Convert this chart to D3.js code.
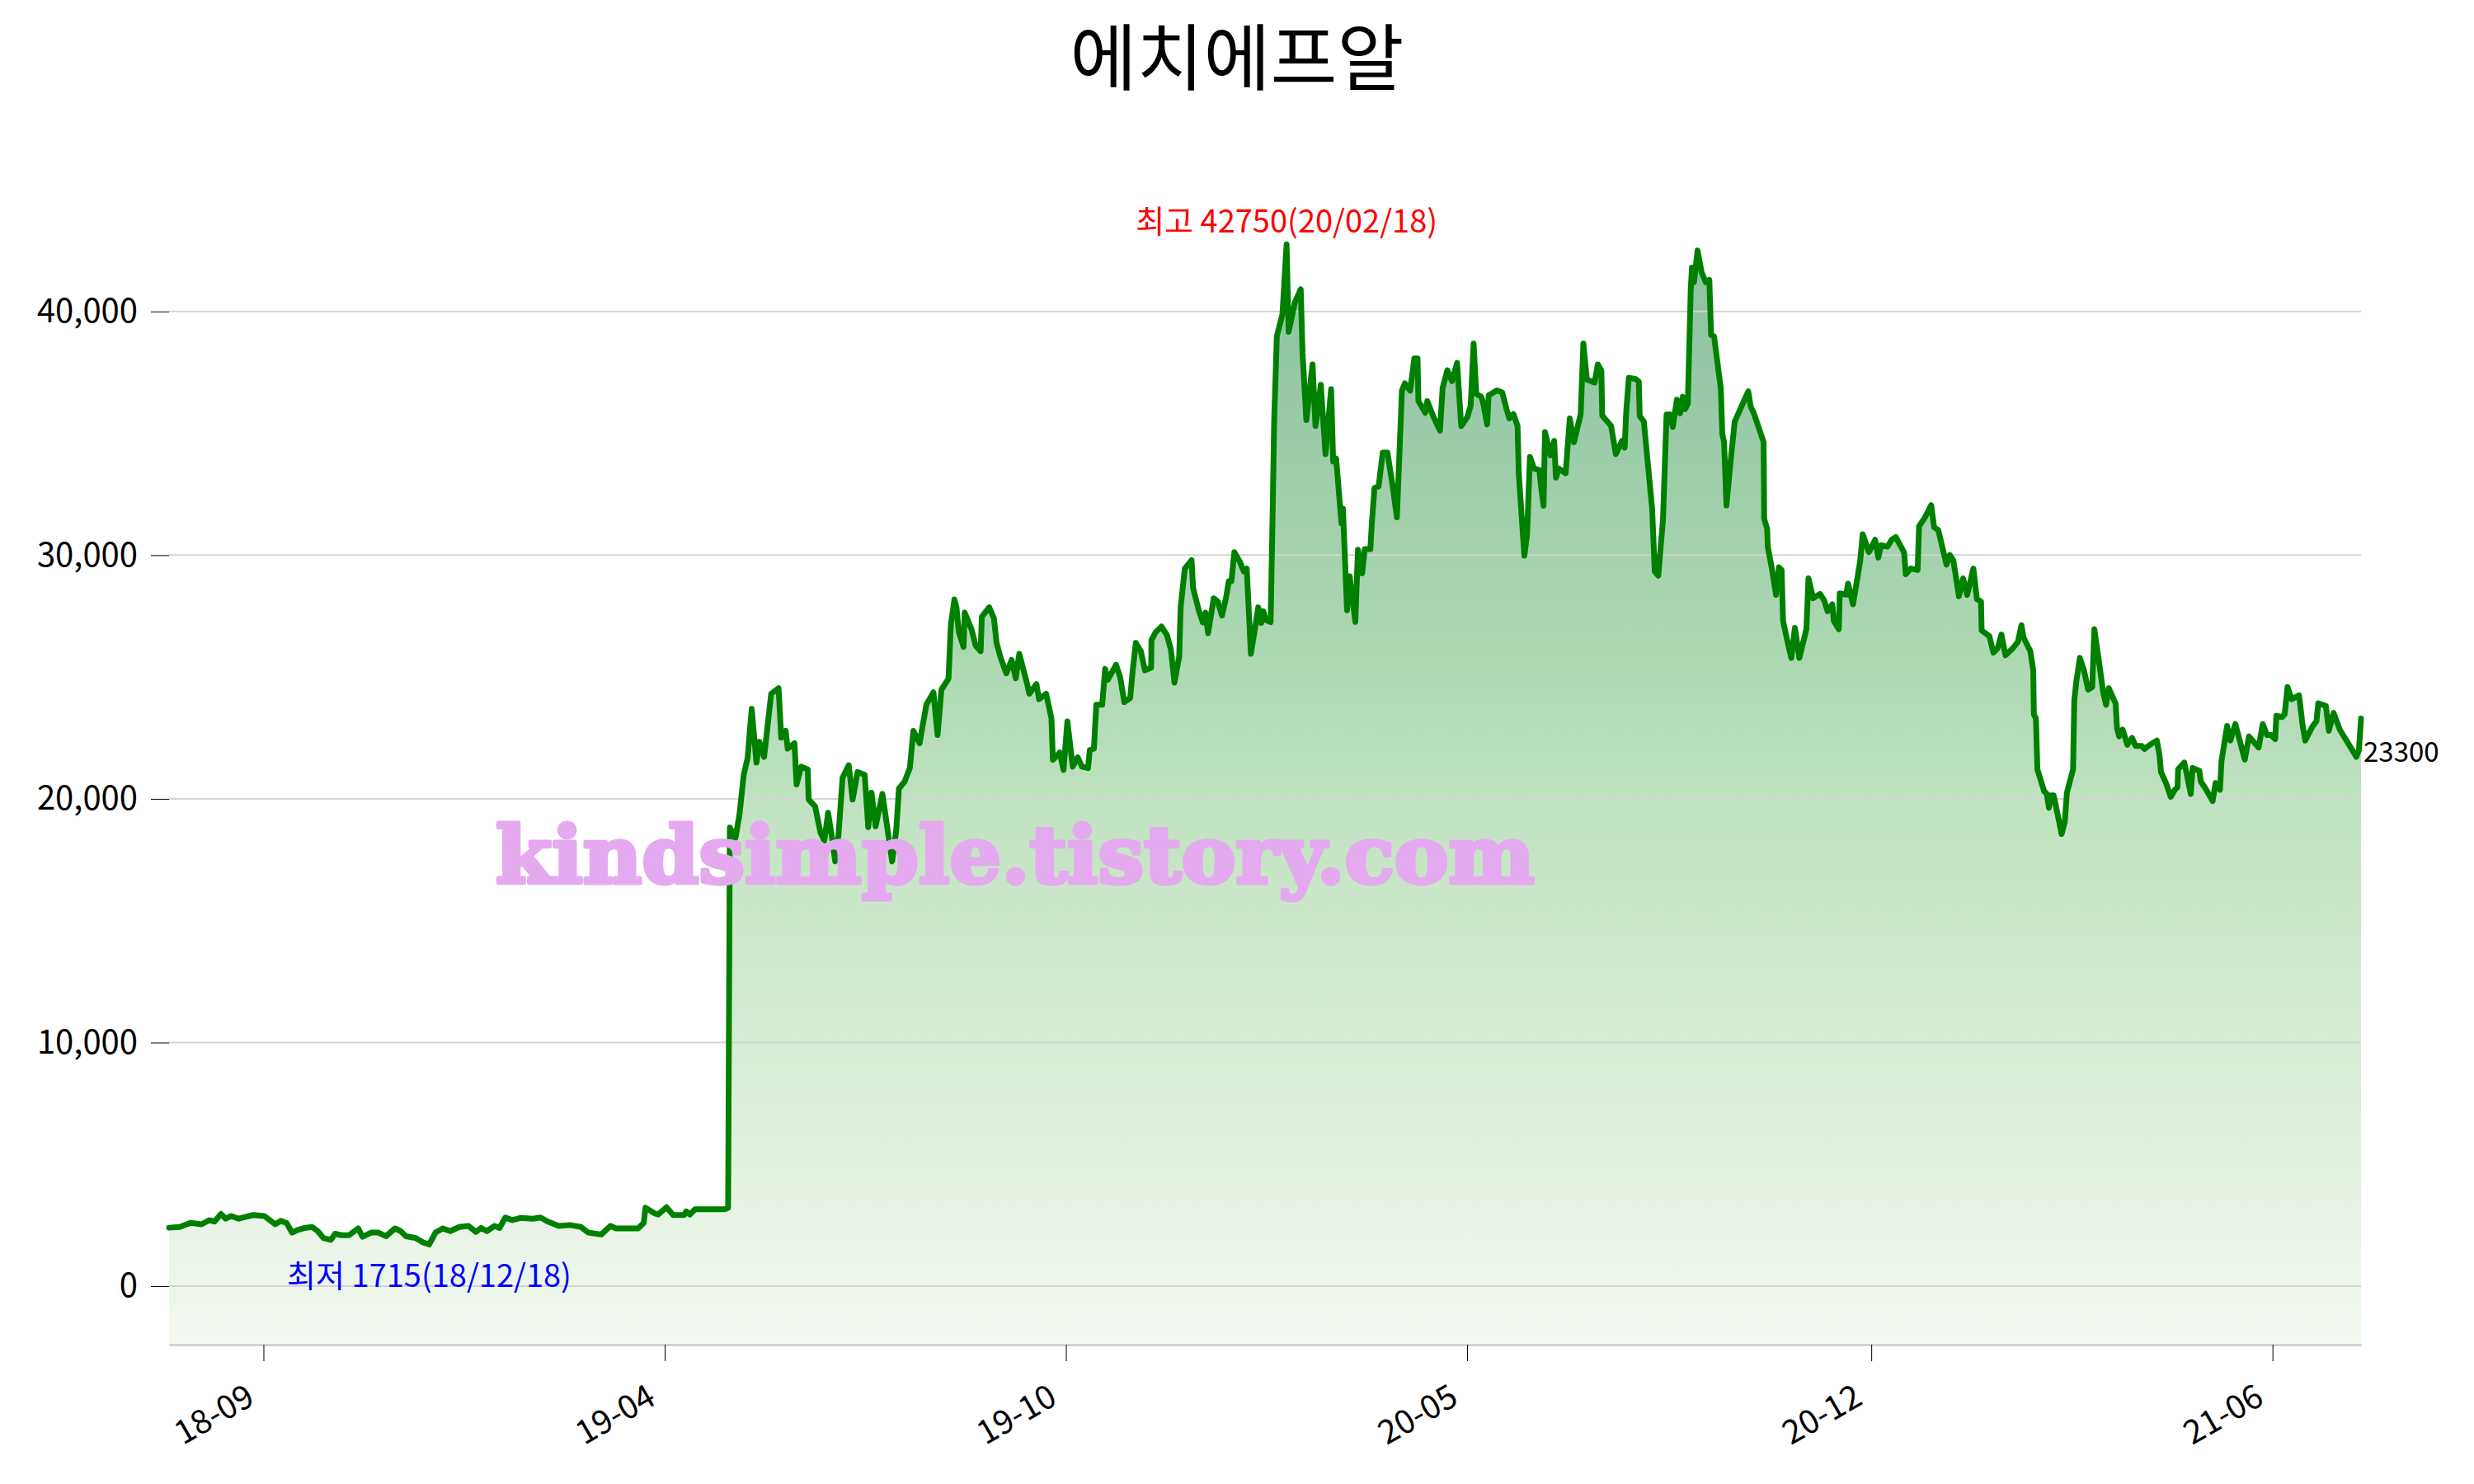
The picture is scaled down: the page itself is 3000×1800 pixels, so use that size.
<!DOCTYPE html>
<html>
<head>
<meta charset="utf-8">
<script src="https://cdnjs.cloudflare.com/ajax/libs/d3/7.8.5/d3.min.js"></script>
<style>
  body { margin: 0; background: #ffffff; }
</style>
</head>
<body>
<div id="chart"></div>
<script>
// chart data: trading-day index and close price
var title = "에치에프알";

var dayIdx = [
  0, 3.6, 7.3, 11, 13.6, 15.4, 17.6, 19.2, 21.1, 23.6,
  26.1, 28.5, 32.3, 34.8, 36, 37.9, 39.8, 41.7, 43.6, 46,
  48.5, 50.4, 52.3, 54.8, 56.3, 58.5, 61, 64.1, 65.6, 68.5,
  71, 73.5, 76.6, 78.5, 80.3, 83.5, 86, 88.2, 90.3, 92.8,
  95.3, 98.4, 101.5, 104, 105.8, 107.7, 110.3, 112, 114, 116.4,
  119, 123.4, 125.9, 128.4, 132.1, 135.9, 139.6, 142.1, 146.5, 149.6,
  151.5, 155.9, 159, 160.9, 161.5, 164.6, 165.8, 168.6, 170.9, 174.6,
  175.3, 176.5, 178.3, 188.3, 189.5, 190.1, 192.0, 193.4, 194.8, 196.1,
  197.5, 199.1, 200.1, 201.7, 204.1, 206.6, 207.5, 209.0, 209.7, 212.0,
  212.7, 214.3, 216.5, 216.8, 219.0, 220.8, 222.1, 223.4, 224.6, 225.8,
  226.9, 228.3, 230.4, 231.7, 233.4, 235.8, 237.0, 238.1, 239.5, 241.8,
  244.1, 245.1, 246.5, 247.4, 249.3, 251.1, 252.3, 254.4, 255.3, 256.7,
  259.1, 260.5, 261.8, 264.2, 265.0, 266.2, 266.9, 267.7, 269.3, 269.7,
  272.0, 273.4, 275.1, 275.5, 278.0, 279.6, 280.5, 281.9, 283.8, 285.6,
  287.0, 288.2, 290.7, 291.6, 294.0, 294.9, 297.3, 299.1, 299.6, 301.9,
  303.2, 304.5, 306.3, 308.0, 309.4, 311.5, 312.1, 313.5, 314.3, 316.3,
  317.3, 318.2, 321.0, 322.4, 323.8, 325.8, 326.6, 327.7, 329.4, 330.8,
  332.9, 333.0, 334.5, 336.4, 338.2, 339.6, 340.8, 342.4, 342.9, 344.3,
  346.6, 347.1, 349.0, 350.4, 351.3, 352.2, 354.1, 355.5, 356.9, 358.3,
  359.2, 360.1, 361.1, 363.0, 364.3, 365.3, 366.7, 367.6, 369.2, 370.2,
  370.9, 371.8, 373.4, 374.1, 374.6, 375.5, 377.4, 378.8, 379.5, 381.6,
  383.6, 384.2, 385.5, 387.6, 388.6, 390.4, 392.0, 393.9, 394.6, 395.6,
  397.4, 397.9, 399.3, 400.2, 402.1, 403.0, 404.4, 405.3, 407.2, 407.7,
  408.6, 410.0, 411.4, 413.0, 414.7, 416.2, 417.9, 418.9, 420.7, 422.1,
  423.2, 423.5, 425.8, 426.5, 428.6, 430.8, 431.7, 433.3, 434.9, 436.6,
  438.0, 440.1, 441.2, 442.2, 443.1, 444.8, 445.4, 446.8, 447.3, 450.1,
  451.9, 453.3, 454.3, 455.7, 457.1, 457.5, 459.4, 460.3, 461.3, 462.7,
  464.5, 465.0, 465.9, 466.4, 468.3, 469.5, 470.1, 471.1, 473.4, 474.8,
  476.2, 478.5, 479.4, 480.6, 483.2, 484.3, 485.5, 485.8, 488.8, 490.4,
  492.5, 493.4, 493.9, 494.8, 497.1, 498.2, 498.5, 499.9, 502.7, 503.6,
  504.8, 506.4, 507.6, 508.8, 509.7, 511.1, 512.2, 513.1, 513.9, 514.8,
  515.8, 516.2, 516.9, 518.1, 519.5, 520.9, 522.1, 522.7, 523.7, 526.0,
  526.5, 527.1, 527.9, 529.3, 530.7, 533.0, 535.3, 536.1, 537.2, 540.5,
  540.7, 541.7, 541.9, 543.3, 544.7, 545.7, 546.6, 547.1, 548.5, 549.9,
  551.1, 552.6, 555.0, 555.7, 557.3, 559.6, 561.0, 562.2, 563.8, 564.3,
  566.0, 566.3, 568.5, 569.1, 570.8, 573.2, 574.1, 576.2, 578.3, 579.4,
  580.3, 582.5, 583.9, 585.3, 588.1, 588.7, 590.4, 592.7, 593.2, 595.1,
  597.3, 598.3, 599.7, 602.5, 603.6, 604.8, 606.7, 608.1, 609.5, 611.6,
  612.8, 614.2, 614.4, 617.0, 618.4, 619.8, 621.1, 622.5, 624.9, 626.7,
  627.9, 628.6, 630.9, 631.9, 632.1, 632.8, 633.3, 635.6, 636.5, 637.2,
  637.9, 638.8, 640.3, 641.5, 642.6, 643.3, 645.4, 645.8, 646.5, 647.7,
  649.1, 650.5, 651.9, 652.6, 654.2, 655.6, 656.6, 657.5, 659.8, 660.3,
  661.0, 662.2, 663.8, 665.4, 666.6, 668.7, 669.6, 671.5, 673.8, 674.7,
  675.2, 676.9, 678.5, 679.9, 680.8, 681.0, 683.1, 685.3, 685.9, 688.2,
  688.7, 690.3, 692.7, 693.7, 695.2, 695.7, 697.6, 698.7, 700.4, 703.6,
  705.0, 708.3, 709.7, 711.1, 712.5, 713.9, 714.3, 716.2, 717.1, 718.1,
  719.5, 722.0, 723.2, 724.1, 726.5, 727.9, 728.5, 731.1, 732.1, 733.7,
  735.8, 737.2, 739.5, 741.4, 742.3, 743
];

var price = [
  2400, 2430, 2600, 2540, 2710, 2650, 2960, 2770, 2880, 2770,
  2850, 2920, 2880, 2650, 2540, 2680, 2600, 2200, 2310, 2390,
  2430, 2260, 1980, 1900, 2150, 2090, 2090, 2370, 2030, 2200,
  2200, 2050, 2370, 2260, 2050, 1980, 1800, 1715, 2200, 2370,
  2260, 2430, 2470, 2230, 2390, 2260, 2470, 2390, 2820, 2710,
  2800, 2770, 2820, 2650, 2470, 2510, 2430, 2200, 2120, 2470,
  2370, 2370, 2370, 2600, 3220, 2990, 2940, 3240, 2920, 2920,
  3070, 2940, 3160, 3160, 3220, 18820, 18390, 19400, 20990, 21660,
  23690, 21490, 22340, 21720, 24310, 24540, 22510, 22790, 22060, 22280,
  20590, 21320, 21210, 19970, 19690, 18620, 18280, 19430, 18500, 17430,
  18500, 20870, 21380, 19970, 21100, 20990, 18840, 20250, 18870, 20200,
  18280, 17430, 18730, 20420, 20700, 21270, 22790, 22280, 22900, 23860,
  24370, 22620, 24480, 24930, 27130, 28180, 27860, 26850, 26230, 27640,
  26960, 26290, 26060, 27470, 27860, 27410, 26400, 25780, 25150, 25700,
  24950, 25950, 24800, 24310, 24710, 24090, 24310, 23300, 21600, 21900,
  21180, 23180, 21320, 21700, 21320, 21260, 22000, 22060, 23860, 23860,
  25330, 24880, 25500, 24990, 23970, 24140, 25210, 26400, 26060, 25270,
  25380, 26510, 26850, 27070, 26730, 26120, 24770, 25840, 27860, 29450,
  29790, 28660, 27750, 27240, 27640, 26800, 28230, 28090, 27520, 28260,
  28930, 28930, 30120, 29720, 29330, 29450, 25950, 26620, 27860, 27220,
  27700, 27340, 27250, 31910, 35540, 38980, 39890, 42750, 39160, 40370,
  40910, 38320, 35540, 37830, 35300, 36990, 34150, 36810, 33840, 33960,
  31310, 31910, 27740, 29130, 27260, 30220, 29250, 30250, 30250, 31310,
  32760, 32820, 34210, 34210, 32880, 31550, 36750, 37050, 36750, 38070,
  38070, 36320, 35840, 36320, 35670, 35110, 36870, 37590, 37140, 37890,
  35300, 35670, 36140, 38680, 36620, 36500, 36270, 35360, 36560, 36760,
  36680, 36020, 35610, 35790, 35300, 33360, 29980, 30820, 34030, 33550,
  33490, 32880, 32030, 35050, 34090, 34690, 33180, 33550, 33360, 35610,
  34630, 35790, 38680, 37200, 37080, 37830, 37570, 35730, 35300, 34150,
  34690, 34410, 35820, 37280, 37230, 37120, 35710, 35480, 31930, 29330,
  29160, 31480, 35770, 35770, 35260, 36380, 35820, 36500, 35990, 36220,
  40890, 41800, 41200, 42500, 41600, 41200, 41300, 39030, 38980, 36830,
  34970, 34640, 32040, 33840, 35480, 36100, 36720, 36100, 35820, 34640,
  31480, 31080, 30350, 29450, 28370, 29500, 29390, 27300, 26510, 25780,
  27020, 25780, 26960, 29050, 28230, 28410, 28150, 27700, 27980, 27300,
  26960, 28430, 28380, 28830, 27980, 29730, 30860, 30120, 30630, 29900,
  30410, 30350, 30630, 30740, 30120, 29220, 29450, 29390, 31190, 31530,
  32050, 31140, 31030, 29610, 30010, 29790, 28310, 29050, 28370, 29450,
  28200, 28090, 26910, 26680, 26000, 26170, 26740, 25890, 26170, 26450,
  27130, 26620, 26060, 25270, 23470, 23300, 21210, 20310, 20200, 19630,
  20140, 20140, 19290, 18560, 19060, 20250, 21210, 24030, 24820, 25780,
  25270, 24480, 24590, 26960, 25610, 24370, 23860, 24540, 23920, 22900,
  22560, 22840, 22220, 22500, 22170, 22170, 22050, 22220, 22390, 21780,
  21100, 20650, 20080, 20370, 20480, 21210, 21490, 20200, 21270, 21150,
  20710, 20420, 19910, 20650, 20370, 21550, 22990, 22390, 23070, 21610,
  22560, 22110, 23070, 22620, 22620, 22450, 23410, 23350, 23470, 24590,
  24090, 24250, 23020, 22390, 22960, 23190, 23920, 23810, 22790, 23530,
  22840, 22560, 22110, 21720, 22000, 23300
];

// x tick positions (trading-day index) and their labels
var tickIdx = [32, 168, 304, 440, 577, 713];
var tickLabels = ["18-09", "19-04", "19-10", "20-05", "20-12", "21-06"];
var yTicks = [0, 10000, 20000, 30000, 40000];

// dates shown in the high / low notes
var maxDate = "20/02/18";
var minDate = "18/12/18";
var watermark = "kindsimple.tistory.com";

function main() {
  var margin = { top: 230, right: 137, bottom: 169, left: 205 },
      width = 3000 - margin.left - margin.right,
      height = 1800 - margin.top - margin.bottom;

  var font = "'Noto Sans CJK KR', 'Noto Sans', sans-serif";

  var svg = d3.select("#chart")
    .append("svg")
    .attr("width", 3000)
    .attr("height", 1800)
    .style("font-family", font);

  // title
  svg.append("text")
    .attr("x", 1500)
    .attr("y", 102)
    .attr("text-anchor", "middle")
    .style("font-size", "88px")
    .text(title);

  var g = svg.append("g")
    .attr("transform", "translate(" + margin.left + "," + margin.top + ")");

  var data = d3.zip(dayIdx, price).map(function(p) { return { i: p[0], v: p[1] }; });

  var x = d3.scaleLinear().domain([0, 743]).range([0, width]);
  var y = d3.scaleLinear().domain([-2400, 45000]).range([height, 0]);

  var maxI = d3.maxIndex(data, function(d) { return d.v; });
  var minI = d3.minIndex(data, function(d) { return d.v; });
  var last = data[data.length - 1];

  // vertical gradient for the area fill
  var grad = svg.append("defs")
    .append("linearGradient")
    .attr("id", "fillGrad")
    .attr("gradientUnits", "userSpaceOnUse")
    .attr("x1", 0).attr("x2", 0)
    .attr("y1", y(data[maxI].v))
    .attr("y2", height);
  [[0, "#8cc1a0"], [0.373, "#acd8b2"], [0.557, "#c6e5c5"], [1, "#f3f8f0"]].forEach(function(s) {
    grad.append("stop").attr("offset", s[0]).attr("stop-color", s[1]);
  });

  g.append("path")
    .datum(data)
    .attr("fill", "url(#fillGrad)")
    .attr("d", d3.area()
      .x(function(d) { return x(d.i); })
      .y0(height)
      .y1(function(d) { return y(d.v); })
    );

  // gridlines
  g.append("g")
    .selectAll("line")
    .data(yTicks)
    .enter()
    .append("line")
    .attr("x1", 0)
    .attr("x2", width)
    .attr("y1", function(d) { return y(d); })
    .attr("y2", function(d) { return y(d); })
    .attr("stroke", "#d3d3d3")
    .attr("stroke-width", 2);

  // Y axis
  var yAxis = g.append("g")
    .call(d3.axisLeft(y)
      .tickValues(yTicks)
      .tickFormat(d3.format(","))
      .tickSize(22)
      .tickPadding(16));
  yAxis.select(".domain").remove();
  yAxis.selectAll("text")
    .style("font-family", font)
    .style("font-size", "40px");

  // X axis
  var xAxis = g.append("g")
    .attr("transform", "translate(0," + height + ")")
    .call(d3.axisBottom(x)
      .tickValues(tickIdx)
      .tickFormat(function(d, i) { return tickLabels[i]; })
      .tickSize(20)
      .tickSizeOuter(0));
  xAxis.select(".domain")
    .attr("stroke", "#d3d3d3")
    .attr("stroke-width", 3);
  xAxis.selectAll("text")
    .attr("x", 0)
    .attr("y", 0)
    .attr("dy", 0)
    .attr("text-anchor", "end")
    .attr("transform", "translate(-9,71) rotate(-30)")
    .style("font-family", font)
    .style("font-size", "40px");

  // price line
  g.append("path")
    .datum(data)
    .attr("fill", "none")
    .attr("stroke", "green")
    .attr("stroke-width", 7)
    .attr("stroke-linejoin", "round")
    .attr("stroke-linecap", "round")
    .attr("d", d3.line()
      .x(function(d) { return x(d.i); })
      .y(function(d) { return y(d.v); })
    );

  // high / low / last notes
  g.append("text")
    .attr("x", x(data[maxI].i))
    .attr("y", y(data[maxI].v) - 15)
    .attr("text-anchor", "middle")
    .attr("fill", "red")
    .style("font-size", "38px")
    .text("최고 " + data[maxI].v + "(" + maxDate + ")");

  g.append("text")
    .attr("x", x(data[minI].i))
    .attr("y", y(data[minI].v) + 52)
    .attr("text-anchor", "middle")
    .attr("fill", "blue")
    .style("font-size", "38px")
    .text("최저 " + data[minI].v + "(" + minDate + ")");

  g.append("text")
    .attr("x", x(last.i) + 3)
    .attr("y", y(last.v) + 53)
    .attr("fill", "black")
    .style("font-size", "33px")
    .text(last.v);

  // blog watermark on top
  svg.append("text")
    .attr("x", 601)
    .attr("y", 1071)
    .attr("fill", "#e4a9ef")
    .attr("stroke", "#e4a9ef")
    .attr("stroke-width", 5)
    .attr("stroke-linejoin", "round")
    .attr("textLength", 1260)
    .attr("lengthAdjust", "spacingAndGlyphs")
    .style("font-family", "'DejaVu Serif', 'Liberation Serif', serif")
    .style("font-weight", "bold")
    .style("font-size", "96px")
    .text(watermark);
}

main();
</script>
</body>
</html>
